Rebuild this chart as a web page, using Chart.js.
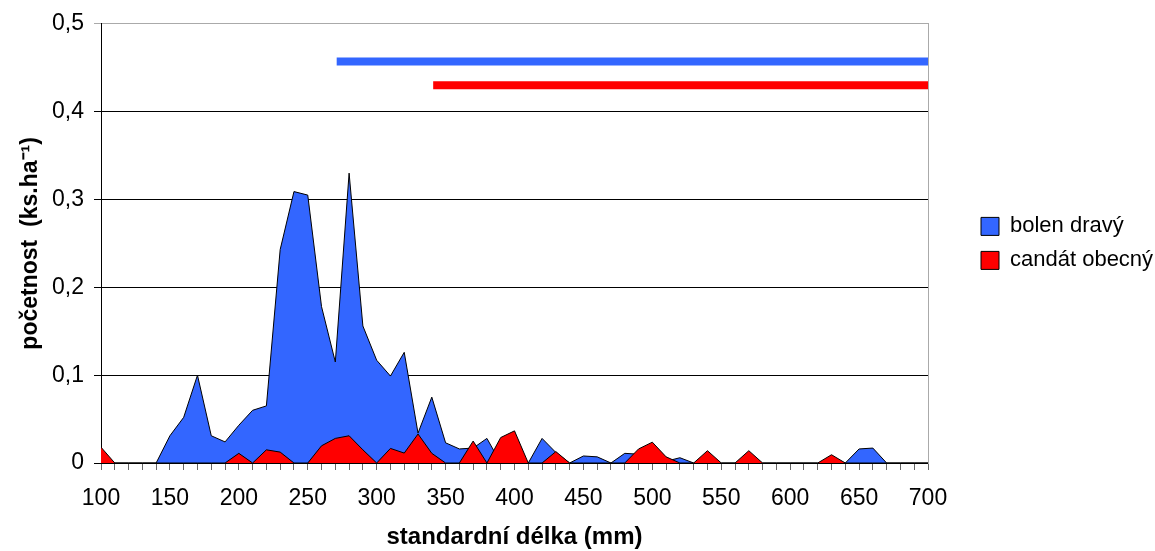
<!DOCTYPE html>
<html>
<head>
<meta charset="utf-8">
<script src="https://cdn.jsdelivr.net/npm/chart.js@4/dist/chart.umd.min.js"></script>
<style>
  body { margin: 0; background: #fff; }
</style>
</head>
<body>
<canvas id="canvas" width="1155" height="551"></canvas>
<script>
// standardní délka (mm), po 10 mm
const lengths = [100, 110, 120, 130, 140, 150, 160, 170, 180, 190,
                 200, 210, 220, 230, 240, 250, 260, 270, 280, 290,
                 300, 310, 320, 330, 340, 350, 360, 370, 380, 390,
                 400, 410, 420, 430, 440, 450, 460, 470, 480, 490,
                 500, 510, 520, 530, 540, 550, 560, 570, 580, 590,
                 600, 610, 620, 630, 640, 650, 660, 670, 680, 690, 700];

const bolen = [0, 0, 0, 0, 0, 0.031, 0.052, 0.100, 0.031, 0.024,
               0.043, 0.060, 0.065, 0.243, 0.309, 0.305, 0.178, 0.115, 0.330, 0.156,
               0.117, 0.099, 0.126, 0.034, 0.075, 0.023, 0.016, 0.017, 0.028, 0,
               0, 0, 0.028, 0.012, 0, 0.008, 0.007, 0, 0.011, 0.010,
               0.005, 0.002, 0.006, 0, 0, 0, 0, 0, 0, 0,
               0, 0, 0, 0, 0, 0.016, 0.017, 0, 0, 0, 0];

const candat = [0.018, 0, 0, 0, 0, 0, 0, 0, 0, 0,
                0.011, 0, 0.015, 0.0124, 0, 0, 0.0196, 0.028, 0.031, 0.015,
                0, 0.0166, 0.0113, 0.033, 0.011, 0, 0, 0.025, 0, 0.029,
                0.0366, 0, 0, 0.013, 0, 0, 0, 0, 0, 0.016,
                0.0237, 0.007, 0, 0, 0.014, 0, 0, 0.014, 0, 0,
                0, 0, 0, 0.0094, 0, 0, 0, 0, 0, 0, 0];

// rozsah délek (vodorovné pruhy nahoře)
const bolenRange = [271, 700];
const bolenLevel = 0.457;
const candatRange = [341, 700];
const candatLevel = 0.43;

const yTicks = [0, 0.1, 0.2, 0.3, 0.4, 0.5];

const blue = '#3366FF';
const red = '#FF0000';

function pts(values) {
  return lengths.map((x, i) => ({ x: x, y: values[i] }));
}

const ctx = document.getElementById('canvas').getContext('2d');
const myChart = new Chart(ctx, {
  type: 'line',
  data: {
    datasets: [{
      label: 'bolen dravý',
      data: pts(bolen),
      backgroundColor: blue,
      borderColor: '#000',
      borderWidth: 1,
      fill: 'origin',
      pointRadius: 0,
      order: 2
    }, {
      label: 'candát obecný',
      data: pts(candat),
      backgroundColor: red,
      borderColor: '#000',
      borderWidth: 1,
      fill: 'origin',
      pointRadius: 0,
      order: 1
    }, {
      label: 'rozsah bolen',
      data: bolenRange.map(x => ({ x: x, y: bolenLevel })),
      borderColor: blue,
      borderWidth: 8,
      fill: false,
      pointRadius: 0,
      order: 0
    }, {
      label: 'rozsah candát',
      data: candatRange.map(x => ({ x: x, y: candatLevel })),
      borderColor: red,
      borderWidth: 8,
      fill: false,
      pointRadius: 0,
      order: 0
    }]
  },
  options: {
    responsive: false,
    animation: false,
    layout: { padding: { top: 17, left: 0, right: 0, bottom: 0 } },
    font: { family: 'Liberation Sans, Arial, sans-serif' },
    plugins: {
      tooltip: { enabled: false },
      legend: {
        position: 'right',
        fullSize: false,
        maxWidth: 186,
        labels: {
          color: '#000',
          font: { size: 22, family: 'Liberation Sans, Arial, sans-serif' },
          boxWidth: 18,
          boxHeight: 18,
          padding: 12,
          filter: item => item.datasetIndex < 2,
          sort: (a, b) => a.datasetIndex - b.datasetIndex
        }
      }
    },
    scales: {
      x: {
        type: 'linear',
        min: 100,
        max: 700,
        afterFit: s => { s.height = 88; },
        border: { display: true, color: '#000', width: 1 },
        grid: { drawOnChartArea: false, drawTicks: true, tickLength: 7, color: '#666' },
        ticks: {
          stepSize: 10,
          autoSkip: false,
          maxRotation: 0,
          padding: 15,
          color: '#000',
          font: { size: 23 },
          callback: v => (v % 50 === 0 ? String(v) : '')
        },
        title: {
          display: true,
          text: 'standardní délka (mm)',
          color: '#000',
          font: { size: 24, weight: 'bold', lineHeight: 1.1 },
          padding: { top: 0, bottom: 0 }
        }
      },
      y: {
        min: 0,
        max: 0.5,
        afterFit: s => { s.width = 101; },
        afterBuildTicks: s => { s.ticks = yTicks.map(v => ({ value: v })); },
        border: { display: true, color: '#000', width: 1 },
        grid: {
          tickLength: 7,
          color: c => (c.tick && c.tick.value === 0.5 ? '#aaa' : '#000')
        },
        ticks: {
          padding: 10,
          color: '#000',
          font: { size: 23 },
          callback: v => (v === 0 ? '0' : v.toFixed(1).replace('.', ','))
        },
        title: {
          display: true,
          text: 'početnost  (ks.ha⁻¹)',
          color: '#000',
          font: { size: 23, weight: 'bold' },
          padding: { top: 17, bottom: 0 }
        }
      },
      pad: {
        type: 'linear',
        position: 'right',
        display: true,
        afterFit: s => { s.width = 41; },
        border: { display: true, color: '#aaa', width: 1 },
        grid: { display: false },
        ticks: { display: false }
      }
    }
  }
});
</script>
</body>
</html>
